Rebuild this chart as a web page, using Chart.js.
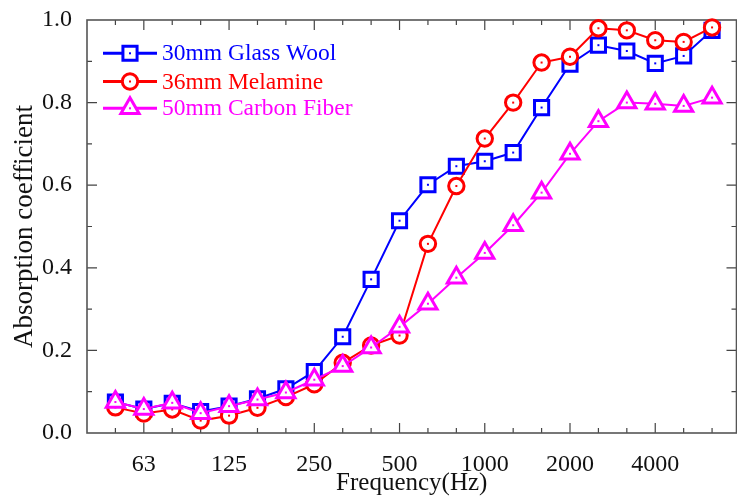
<!DOCTYPE html>
<html><head><meta charset="utf-8">
<script src="https://cdn.jsdelivr.net/npm/chart.js@4/dist/chart.umd.min.js"></script>
<style>html,body{margin:0;padding:0;background:#fff;} canvas{display:block;}</style>
</head><body>
<canvas id="c" width="737" height="499"></canvas>
<script>
const frequencies = ['50','63','80','100','125','160','200','250','315','400','500','630','800','1000','1250','1600','2000','2500','3150','4000','5000','6300'];
const majorTickLabels = ['63','125','250','500','1000','2000','4000'];
const glassWool   = [0.075,0.058,0.072,0.052,0.065,0.083,0.107,0.149,0.233,0.372,0.514,0.601,0.646,0.658,0.679,0.788,0.893,0.939,0.925,0.895,0.913,0.975];
const melamine    = [0.062,0.047,0.057,0.030,0.042,0.061,0.087,0.118,0.170,0.212,0.236,0.458,0.598,0.713,0.800,0.897,0.911,0.980,0.975,0.951,0.947,0.982];
const carbonFiber = [0.075,0.058,0.073,0.048,0.065,0.081,0.098,0.129,0.162,0.207,0.257,0.313,0.376,0.436,0.503,0.582,0.676,0.755,0.800,0.797,0.792,0.812];
const seriesNames = ['30mm Glass Wool','36mm Melamine','50mm Carbon Fiber'];

const FONT = "'Liberation Serif','Times New Roman',serif";
const majorIdx = majorTickLabels.map(l => frequencies.indexOf(l));
const seriesData = [glassWool, melamine, carbonFiber];
const styles = [
  {color:'#0000ff', pointStyle:'rect', radius:10, order:3},
  {color:'#ff0000', pointStyle:'circle', radius:7.7, order:2},
  {color:'#ff00ff', pointStyle:'triangle', radius:10.5, order:1}
];
const toPoints = arr => arr.map((v,i)=>({x:i, y:v}));

const datasets = seriesData.map((arr,k)=>({
  label: seriesNames[k],
  data: toPoints(arr),
  borderColor: styles[k].color,
  backgroundColor: '#fff',
  borderWidth: 2,
  pointStyle: styles[k].pointStyle,
  pointRadius: styles[k].radius,
  pointHoverRadius: styles[k].radius,
  pointBorderWidth: 3,
  pointBackgroundColor: '#fff',
  pointBorderColor: styles[k].color,
  order: styles[k].order,
  clip: false,
  tension: 0
}));

function drawMarker(ctx, style, x, y, r){
  ctx.beginPath();
  if(style==='rect'){ const s=Math.SQRT1_2*r; ctx.rect(x-s,y-s,2*s,2*s); }
  else if(style==='circle'){ ctx.arc(x,y,r,0,Math.PI*2); }
  else { for(let k=0;k<3;k++){ const a=k*2*Math.PI/3; const px=x+Math.sin(a)*r, py=y-Math.cos(a)*r; if(k) ctx.lineTo(px,py); else ctx.moveTo(px,py);} ctx.closePath(); }
  ctx.fillStyle='#fff'; ctx.fill(); ctx.stroke();
}

const framePlugin = {
  id:'frame',
  beforeDatasetsDraw(chart){
    const {ctx, chartArea:a, scales:{x,y}} = chart;
    ctx.save();
    ctx.strokeStyle='#444'; ctx.lineWidth=1.2;
    ctx.beginPath();
    for(let i=0;i<frequencies.length;i++){
      const px = x.getPixelForValue(i);
      const len = majorIdx.includes(i) ? 10 : 5;
      ctx.moveTo(px, a.bottom); ctx.lineTo(px, a.bottom-len);
      ctx.moveTo(px, a.top); ctx.lineTo(px, a.top+len);
    }
    for(let k=1;k<10;k++){
      const py = y.getPixelForValue(k/10);
      const len = (k%2===0) ? 10 : 5;
      ctx.moveTo(a.left, py); ctx.lineTo(a.left+len, py);
      ctx.moveTo(a.right, py); ctx.lineTo(a.right-len, py);
    }
    ctx.stroke();
    ctx.strokeStyle='#555'; ctx.lineWidth=1.6;
    ctx.strokeRect(a.left, a.top, a.right-a.left, a.bottom-a.top);
    ctx.restore();
  },
  afterDatasetDraw(chart, args){
    const meta = args.meta; const ctx = chart.ctx;
    const col = chart.data.datasets[args.index].borderColor;
    ctx.save(); ctx.fillStyle = col;
    meta.data.forEach(p => { ctx.fillRect(p.x-1, p.y-1, 2, 2); });
    ctx.restore();
  },
  afterDraw(chart){
    const ctx = chart.ctx;
    const rows = [53.3, 81.5, 108.3];
    ctx.save();
    chart.data.datasets.forEach((ds,k)=>{
      const yy = rows[k];
      ctx.strokeStyle = ds.borderColor; ctx.lineWidth = 3;
      ctx.beginPath(); ctx.moveTo(103, yy); ctx.lineTo(157, yy); ctx.stroke();
      drawMarker(ctx, ds.pointStyle, 130, yy, ds.pointRadius);
      ctx.fillStyle = ds.borderColor; ctx.fillRect(129, yy-1, 2, 2);
      ctx.font = '23.5px ' + FONT; ctx.textBaseline = 'middle'; ctx.textAlign='left';
      ctx.fillText(ds.label, 162, yy+1);
    });
    ctx.restore();
  }
};

new Chart(document.getElementById('c'), {
  type: 'line',
  data: { datasets },
  options: {
    responsive: false,
    devicePixelRatio: 1,
    animation: false,
    events: [],
    layout: { autoPadding: false, padding: { top: 20, right: 0.5, bottom: 0, left: 0 } },
    plugins: { legend: { display: false }, tooltip: { enabled: false } },
    scales: {
      x: {
        type: 'linear', min: -1, max: 21.86,
        grid: { display: false, drawTicks: false },
        border: { display: false },
        afterBuildTicks: s => { s.ticks = majorIdx.map(v => ({ value: v })); },
        afterFit: s => { s.height = 66; s.paddingLeft = 0; s.paddingRight = 0; },
        ticks: {
          autoSkip: false, maxRotation: 0, padding: 17, color: '#111',
          font: { family: FONT, size: 24 },
          callback: v => frequencies[v] || ''
        },
        title: { display: true, text: 'Frequency(Hz)', color: '#111', font: { family: FONT, size: 25 }, padding: { top: 0, bottom: 1 } }
      },
      y: {
        min: 0, max: 1,
        grid: { display: false, drawTicks: false },
        border: { display: false },
        afterFit: s => { s.width = 87; s.paddingTop = 0; s.paddingBottom = 0; },
        ticks: {
          stepSize: 0.2, padding: 15, color: '#111',
          font: { family: FONT, size: 24 },
          callback: v => Number(v).toFixed(1)
        },
        title: { display: true, text: 'Absorption coefficient', color: '#111', font: { family: FONT, size: 27 }, padding: { top: 9, bottom: 0 } }
      }
    }
  },
  plugins: [framePlugin]
});
</script>
</body></html>
